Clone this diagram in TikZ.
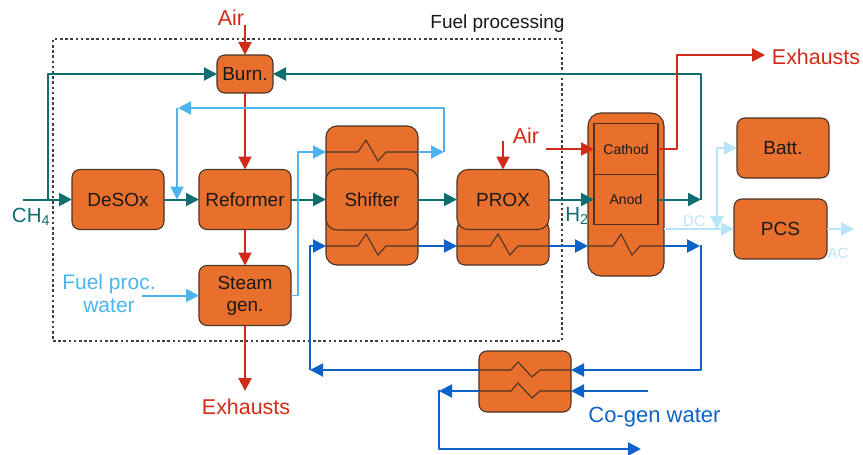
\documentclass[tikz,border=0pt]{standalone}
\usepackage{fontspec}
\setmainfont{Liberation Sans}
\usetikzlibrary{arrows.meta}
\definecolor{boxfill}{HTML}{E8702C}
\definecolor{boxline}{HTML}{4A3426}
\definecolor{tealc}{HTML}{0F6F70}
\definecolor{redc}{HTML}{D32A18}
\definecolor{blueb}{HTML}{0B63C9}
\definecolor{bluel}{HTML}{4CB4EE}
\definecolor{bluep}{HTML}{B8E4FA}
\tikzset{
  proc/.style={draw=boxline,fill=boxfill,line width=1.1pt,rounded corners=8pt,inner sep=0pt,outer sep=0pt,align=center,font=\fontsize{19}{22}\selectfont,text=black!90},
  cell/.style={draw=boxline,line width=1.1pt,inner sep=0pt,outer sep=0pt,font=\fontsize{14}{16}\selectfont,text=black!90},
  hxline/.style={draw=boxline,line width=1.1pt},
  flow/.style={line width=2pt,-{Triangle[length=13pt,width=13pt]},line join=round},
  plain/.style={line width=2pt,line join=round},
  teal/.style={flow,draw=tealc},
  redf/.style={flow,draw=redc},
  blued/.style={flow,draw=blueb},
  bluew/.style={flow,draw=bluel},
  pale/.style={flow,draw=bluep},
  lab/.style={inner sep=0pt,outer sep=0pt,align=center},
}
\begin{document}
\begin{tikzpicture}[x=1pt,y=-1pt]
\useasboundingbox (0,0) rectangle (863,455);
% dashed region
\node[draw=black!75,line width=1.2pt,dash pattern=on 2.6pt off 2.6pt,inner sep=0pt,minimum width=509pt,minimum height=302pt] (region) at (307.5,190) {};
\node[lab,font=\fontsize{19}{21}\selectfont,text=black!90] (fuellab) at (497.5,24) {Fuel processing};
% boxes
\node[proc,minimum width=56pt,minimum height=38pt] (burn) at (245,74) {Burn.};
\node[proc,minimum width=92pt,minimum height=60pt] (desox) at (118,199.5) {DeSOx};
\node[proc,minimum width=92pt,minimum height=60pt] (reformer) at (245,199.5) {Reformer};
\node[proc,minimum width=92pt,minimum height=60pt] (steam) at (245,295.5) {Steam\\gen.};
\node[proc,rounded corners=11pt,minimum width=92pt,minimum height=139pt] (shiftout) at (372,195.5) {};
\node[proc,rounded corners=11pt,minimum width=92pt,minimum height=61pt] (shifter) at (372,199.5) {Shifter};
\node[proc,minimum width=92pt,minimum height=44pt] (proxlow) at (503,243) {};
\node[proc,rounded corners=11pt,minimum width=92pt,minimum height=60pt] (prox) at (503,199.5) {PROX};
\node[proc,rounded corners=13pt,minimum width=76pt,minimum height=163pt] (fc) at (626,194.5) {};
\node[cell,minimum width=64pt,minimum height=51pt] (cathod) at (626,149) {Cathod};
\node[cell,minimum width=64pt,minimum height=50pt] (anod) at (626,199.5) {Anod};
\node[proc,minimum width=92pt,minimum height=60pt] (batt) at (783,148) {Batt.};
\node[proc,minimum width=93pt,minimum height=60pt] (pcs) at (780.5,229) {PCS};
\node[proc,minimum width=92pt,minimum height=61pt] (hx) at (525,381.5) {};
% labels
\node[lab,text=redc,font=\fontsize{21.5}{24}\selectfont] (air1) at (231,18) {Air};
\node[lab,text=redc,font=\fontsize{21.5}{24}\selectfont] (air2) at (526,136) {Air};
\node[lab,text=redc,font=\fontsize{21.4}{24}\selectfont] (ex1) at (246,407) {Exhausts};
\node[lab,text=redc,font=\fontsize{21.4}{24}\selectfont] (ex2) at (816,57) {Exhausts};
\node[lab,text=tealc,font=\fontsize{20.5}{24}\selectfont] (ch4) at (31,217) {CH\textsubscript{4}};
\node[lab,text=tealc,font=\fontsize{20.5}{24}\selectfont] (h2) at (577,216) {H\textsubscript{2}};
\node[lab,text=bluel,font=\fontsize{21}{23}\selectfont] (fpw) at (109,293.5) {Fuel proc.\\water};
\node[lab,text=blueb,font=\fontsize{22}{24}\selectfont] (cogen) at (654.5,417) {Co-gen water};
\node[lab,text=bluep,font=\fontsize{15.5}{18}\selectfont] (dc) at (694,221) {DC};
\node[lab,text=bluep,font=\fontsize{15}{18}\selectfont] (ac) at (838,253) {AC};
% heat exchanger lines
\coordinate (shTL) at (shiftout.west |- 0,152);
\coordinate (shTR) at (shiftout.east |- 0,152);
\coordinate (shBL) at (shiftout.west |- 0,246);
\coordinate (shBR) at (shiftout.east |- 0,246);
\coordinate (prL) at (proxlow.west |- 0,246);
\coordinate (prR) at (proxlow.east |- 0,246);
\coordinate (fcL) at (fc.west |- 0,246);
\coordinate (fcR) at (fc.east |- 0,246);
\coordinate (hxAL) at (hx.west |- 0,370);
\coordinate (hxAR) at (hx.east |- 0,370);
\coordinate (hxBL) at (hx.west |- 0,391);
\coordinate (hxBR) at (hx.east |- 0,391);
\draw[hxline] (shTL) -- (358,152) -- (366,140) -- (378,161) -- (386,152) -- (shTR);
\draw[hxline] (shBL) -- (358,246) -- (366,234) -- (378,255) -- (386,246) -- (shBR);
\draw[hxline] (prL) -- (490,246) -- (498,234) -- (510,255) -- (518,246) -- (prR);
\draw[hxline] (fcL) -- (613,246) -- (621,234) -- (632,255) -- (640,246) -- (fcR);
\draw[hxline] (hxAL) -- (511,370) -- (518,362) -- (532,377) -- (540,370) -- (hxAR);
\draw[hxline] (hxBL) -- (511,391) -- (518,383) -- (532,398) -- (540,391) -- (hxBR);
% free ends
\coordinate (ch4start) at (23,199.5);
\coordinate (ch4tee) at (48,199.5);
\coordinate (anodout) at (701,199.5);
\coordinate (airtop) at (245,25);
\coordinate (airprox) at (503,141);
\coordinate (aircath) at (546,149);
\coordinate (exh1) at (245,391);
\coordinate (exh2) at (765,55);
\coordinate (fpwstart) at (142,295.5);
\coordinate (cogenstart) at (648,391);
\coordinate (hotend) at (641,449);
\coordinate (acend) at (854,229);
\coordinate (dctee) at (717,229);
% teal
\draw[teal] (ch4start) -- (desox.west);
\draw[teal] (ch4tee) -- (48,74) -- (burn.west);
\draw[teal] (desox.east) -- (reformer.west);
\draw[teal] (reformer.east) -- (shifter.west);
\draw[teal] (shifter.east) -- (prox.west);
\draw[teal] (prox.east) -- (anod.west);
\draw[teal] (anod.east) -- (anodout);
\draw[plain,draw=tealc] (anodout) -- (701,74) -- (290,74);
\draw[teal] (290,74) -- (burn.east);
% red
\draw[redf] (airtop) -- (burn.north);
\draw[redf] (burn.south) -- (reformer.north);
\draw[redf] (reformer.south) -- (steam.north);
\draw[redf] (steam.south) -- (exh1);
\draw[redf] (airprox) -- (prox.north);
\draw[redf] (aircath) -- (cathod.west);
\draw[redf] (cathod.east) -- (677,149) -- (677,55) -- (exh2);
% light blue
\draw[bluew] (shTR) -- (444,152);
\draw[plain,draw=bluel] (444,152) -- (444,108) -- (195,108);
\draw[bluew] (195,108) -- (178,108);
\draw[bluew] (177,108) -- (177,199.5);
\draw[plain,draw=bluel,line width=1.4pt] (steam.east) -- (298,295.5) -- (298,152) -- (310,152);
\draw[bluew] (310,152) -- (shTL);
\draw[bluew] (fpwstart) -- (steam.west);
% dark blue
\draw[blued] (310,370) -- (310,246) -- (shBL);
\draw[blued] (shBR) -- (prL);
\draw[blued] (prR) -- (fcL);
\draw[blued] (fcR) -- (700,246);
\draw[plain,draw=blueb] (701,245) -- (701,370) -- (590,370);
\draw[blued] (590,370) -- (hxAR);
\draw[blued] (hxAL) -- (310,370);
\draw[blued] (cogenstart) -- (hxBR);
\draw[blued] (hxBL) -- (439,391);
\draw[blued] (439,390) -- (439,449) -- (hotend);
% pale blue
\draw[pale] (fc.east |- 0,229) -- (pcs.west);
\draw[pale] (dctee) -- (717,148) -- (batt.west);
\draw[pale] (717,160) -- (dctee);
\draw[pale] (pcs.east) -- (acend);
\end{tikzpicture}
\end{document}
